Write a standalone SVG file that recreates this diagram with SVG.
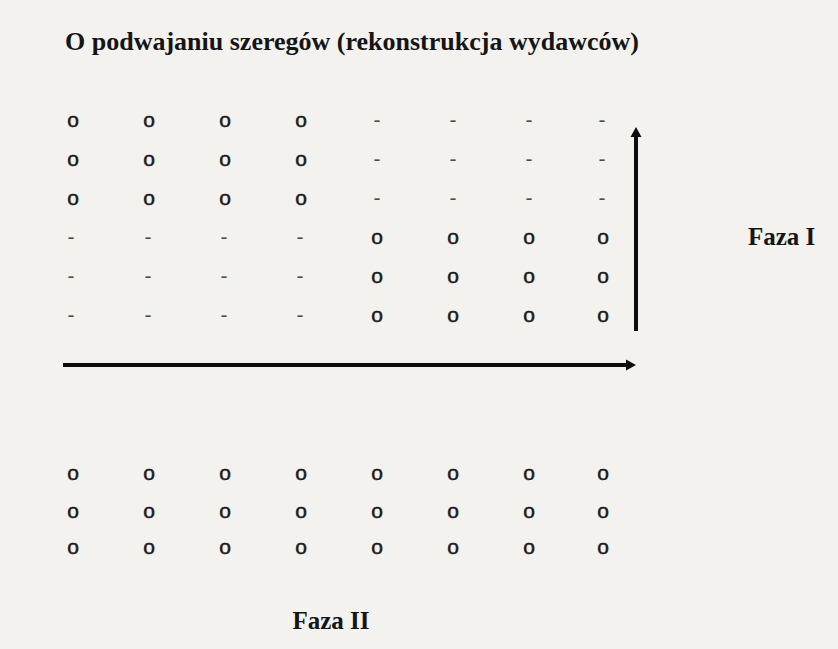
<svg xmlns="http://www.w3.org/2000/svg" width="838" height="649" viewBox="0 0 838 649">
<defs>
<style>
.t{font-family:"Liberation Serif","Times New Roman",serif;font-weight:bold;fill:#151515}
.o{font-family:"Liberation Sans",Arial,sans-serif;font-size:21px;fill:#1a1a1a;text-anchor:middle;stroke:#1a1a1a;stroke-width:0.5}
.d{font-family:"Liberation Sans",Arial,sans-serif;font-size:21px;fill:#4a4a4a;text-anchor:middle}
.ln{stroke:#0d0d0d;stroke-width:4;fill:none}
</style>
<marker id="ah" markerUnits="userSpaceOnUse" markerWidth="14" markerHeight="14" refX="2" refY="7" orient="auto">
<path d="M0,1.5 L10,7 L0,12.5 Z" fill="#0d0d0d"/>
</marker>
</defs>
<rect width="838" height="649" fill="#f3f2ef"/>
<g id="title"><text class="t" x="65" y="50" font-size="26">O podwajaniu szeregów (rekonstrukcja wydawców)</text></g>
<g id="faza1"><text class="t" x="748" y="245" font-size="25">Faza I</text></g>
<g id="faza2"><text class="t" x="292.5" y="629" font-size="25">Faza II</text></g>
<g id="upper-left-o">
<text class="o" y="126.5"><tspan x="73">o</tspan><tspan x="149">o</tspan><tspan x="225">o</tspan><tspan x="301">o</tspan></text>
<text class="o" y="165.5"><tspan x="73">o</tspan><tspan x="149">o</tspan><tspan x="225">o</tspan><tspan x="301">o</tspan></text>
<text class="o" y="204.5"><tspan x="73">o</tspan><tspan x="149">o</tspan><tspan x="225">o</tspan><tspan x="301">o</tspan></text>
</g>
<g id="upper-right-dash">
<text class="d" y="126.5"><tspan x="377">-</tspan><tspan x="453">-</tspan><tspan x="529">-</tspan><tspan x="602">-</tspan></text>
<text class="d" y="165.5"><tspan x="377">-</tspan><tspan x="453">-</tspan><tspan x="529">-</tspan><tspan x="602">-</tspan></text>
<text class="d" y="204.5"><tspan x="377">-</tspan><tspan x="453">-</tspan><tspan x="529">-</tspan><tspan x="602">-</tspan></text>
</g>
<g id="middle-left-dash">
<text class="d" y="243.5"><tspan x="71">-</tspan><tspan x="148">-</tspan><tspan x="224">-</tspan><tspan x="300">-</tspan></text>
<text class="d" y="282.5"><tspan x="71">-</tspan><tspan x="148">-</tspan><tspan x="224">-</tspan><tspan x="300">-</tspan></text>
<text class="d" y="321.5"><tspan x="71">-</tspan><tspan x="148">-</tspan><tspan x="224">-</tspan><tspan x="300">-</tspan></text>
</g>
<g id="middle-right-o">
<text class="o" y="243.5"><tspan x="377">o</tspan><tspan x="453">o</tspan><tspan x="529">o</tspan><tspan x="603">o</tspan></text>
<text class="o" y="282.5"><tspan x="377">o</tspan><tspan x="453">o</tspan><tspan x="529">o</tspan><tspan x="603">o</tspan></text>
<text class="o" y="321.5"><tspan x="377">o</tspan><tspan x="453">o</tspan><tspan x="529">o</tspan><tspan x="603">o</tspan></text>
</g>
<g id="lower-o">
<text class="o" y="479.5"><tspan x="73">o</tspan><tspan x="149">o</tspan><tspan x="225">o</tspan><tspan x="301">o</tspan><tspan x="377">o</tspan><tspan x="453">o</tspan><tspan x="529">o</tspan><tspan x="603">o</tspan></text>
<text class="o" y="518"><tspan x="73">o</tspan><tspan x="149">o</tspan><tspan x="225">o</tspan><tspan x="301">o</tspan><tspan x="377">o</tspan><tspan x="453">o</tspan><tspan x="529">o</tspan><tspan x="603">o</tspan></text>
<text class="o" y="553.5"><tspan x="73">o</tspan><tspan x="149">o</tspan><tspan x="225">o</tspan><tspan x="301">o</tspan><tspan x="377">o</tspan><tspan x="453">o</tspan><tspan x="529">o</tspan><tspan x="603">o</tspan></text>
</g>
<g id="connectors">
<line class="ln" x1="636" y1="331" x2="636" y2="135" marker-end="url(#ah)"/>
<line class="ln" x1="63" y1="365" x2="628" y2="365" marker-end="url(#ah)"/>
</g>
</svg>
